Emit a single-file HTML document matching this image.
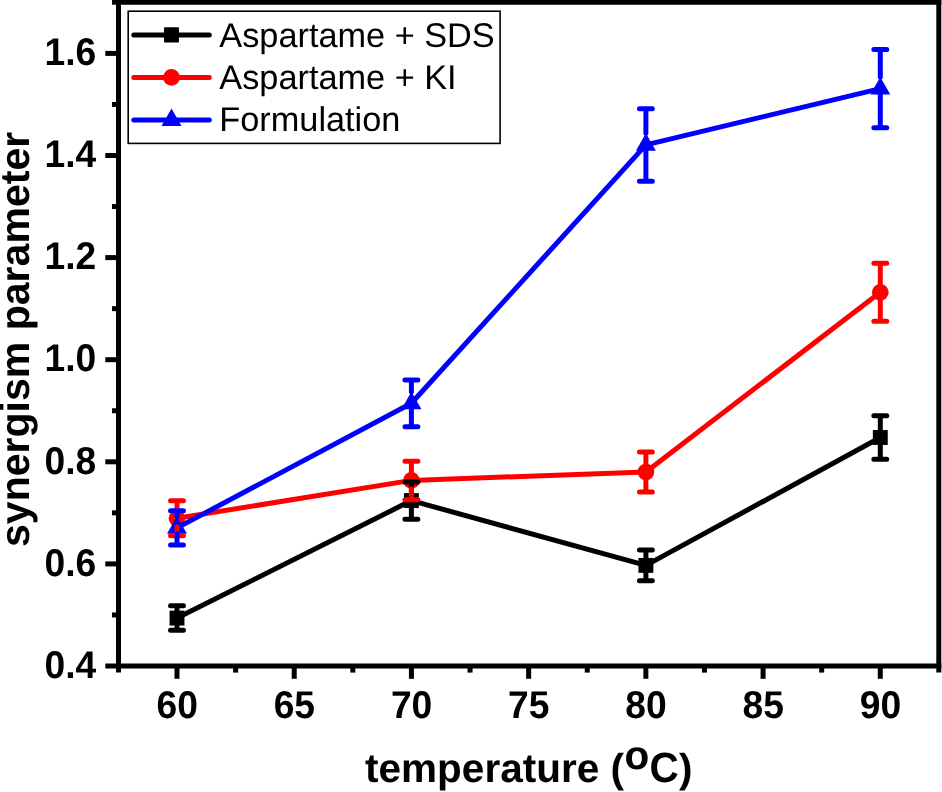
<!DOCTYPE html>
<html><head><meta charset="utf-8"><title>synergism parameter vs temperature</title>
<style>
html,body{margin:0;padding:0;background:#fff;}
body{width:942px;height:792px;overflow:hidden;font-family:"Liberation Sans",sans-serif;}
svg{display:block;will-change:transform;text-rendering:geometricPrecision;}
</style></head><body>
<svg width="942" height="792" viewBox="0 0 942 792">
<rect width="942" height="792" fill="#fff"/>
<polyline fill="none" stroke="#000" stroke-width="5.00" stroke-linejoin="round" stroke-linecap="round" points="177.00,618.10 411.40,500.60 645.90,565.40 880.30,437.50"/>
<rect x="169.55" y="610.65" width="14.90" height="14.90" fill="#000"/>
<rect x="403.95" y="493.15" width="14.90" height="14.90" fill="#000"/>
<rect x="638.45" y="557.95" width="14.90" height="14.90" fill="#000"/>
<rect x="872.85" y="430.05" width="14.90" height="14.90" fill="#000"/>
<polyline fill="none" stroke="#f00" stroke-width="5.00" stroke-linejoin="round" stroke-linecap="round" points="177.00,518.30 411.40,480.40 645.90,472.00 880.30,292.30"/>
<circle cx="177.00" cy="518.30" r="8.35" fill="#f00"/>
<circle cx="411.40" cy="480.40" r="8.35" fill="#f00"/>
<circle cx="645.90" cy="472.00" r="8.35" fill="#f00"/>
<circle cx="880.30" cy="292.30" r="8.35" fill="#f00"/>
<polyline fill="none" stroke="#00f" stroke-width="5.00" stroke-linejoin="round" stroke-linecap="round" points="177.00,527.90 411.40,403.30 645.90,144.90 880.30,88.60"/>
<polygon fill="#00f" points="177.00,516.23 167.00,533.73 187.00,533.73"/>
<polygon fill="#00f" points="411.40,391.63 401.40,409.13 421.40,409.13"/>
<polygon fill="#00f" points="645.90,133.23 635.90,150.73 655.90,150.73"/>
<polygon fill="#00f" points="880.30,76.93 870.30,94.43 890.30,94.43"/>
<path fill="none" stroke="#000" stroke-width="5.00" stroke-linecap="round" d="M177.00 605.85V610.65M177.00 625.55V630.35M170.55 605.85H183.45M170.55 630.35H183.45"/>
<path fill="none" stroke="#000" stroke-width="5.00" stroke-linecap="round" d="M411.40 482.00V493.15M411.40 508.05V519.20M404.95 482.00H417.85M404.95 519.20H417.85"/>
<path fill="none" stroke="#000" stroke-width="5.00" stroke-linecap="round" d="M645.90 550.00V557.95M645.90 572.85V580.80M639.45 550.00H652.35M639.45 580.80H652.35"/>
<path fill="none" stroke="#000" stroke-width="5.00" stroke-linecap="round" d="M880.30 415.80V430.05M880.30 444.95V459.20M873.85 415.80H886.75M873.85 459.20H886.75"/>
<path fill="none" stroke="#f00" stroke-width="5.00" stroke-linecap="round" d="M177.00 500.80V509.95M177.00 526.65V535.80M170.55 500.80H183.45M170.55 535.80H183.45"/>
<path fill="none" stroke="#f00" stroke-width="5.00" stroke-linecap="round" d="M411.40 461.15V472.05M411.40 488.75V499.65M404.95 461.15H417.85M404.95 499.65H417.85"/>
<path fill="none" stroke="#f00" stroke-width="5.00" stroke-linecap="round" d="M645.90 452.00V463.65M645.90 480.35V492.00M639.45 452.00H652.35M639.45 492.00H652.35"/>
<path fill="none" stroke="#f00" stroke-width="5.00" stroke-linecap="round" d="M880.30 263.30V283.95M880.30 300.65V321.30M873.85 263.30H886.75M873.85 321.30H886.75"/>
<path fill="none" stroke="#00f" stroke-width="5.00" stroke-linecap="round" d="M177.00 510.80V516.23M177.00 533.73V545.00M170.55 510.80H183.45M170.55 545.00H183.45"/>
<path fill="none" stroke="#00f" stroke-width="5.00" stroke-linecap="round" d="M411.40 379.95V391.63M411.40 409.13V426.65M404.95 379.95H417.85M404.95 426.65H417.85"/>
<path fill="none" stroke="#00f" stroke-width="5.00" stroke-linecap="round" d="M645.90 108.65V133.23M645.90 150.73V181.15M639.45 108.65H652.35M639.45 181.15H652.35"/>
<path fill="none" stroke="#00f" stroke-width="5.00" stroke-linecap="round" d="M880.30 49.45V76.93M880.30 94.43V127.75M873.85 49.45H886.75M873.85 127.75H886.75"/>
<g stroke="#000" stroke-width="5.00" fill="none" stroke-linecap="butt">
<path d="M118.50 0.00V672.60"/>
<path d="M938.80 0.00V672.60"/>
<path d="M112.00 2.30H941.30"/>
<path d="M105.30 666.00H941.30"/>
</g>
<g stroke="#000" stroke-width="5.00" fill="none">
<path d="M105.3 563.90H118.50"/>
<path d="M105.3 461.80H118.50"/>
<path d="M105.3 359.70H118.50"/>
<path d="M105.3 257.60H118.50"/>
<path d="M105.3 155.50H118.50"/>
<path d="M105.3 53.40H118.50"/>
<path d="M112 614.95H118.50"/>
<path d="M112 512.85H118.50"/>
<path d="M112 410.75H118.50"/>
<path d="M112 308.65H118.50"/>
<path d="M112 206.55H118.50"/>
<path d="M112 104.45H118.50"/>
<path d="M177.00 666.00V678.8"/>
<path d="M294.22 666.00V678.8"/>
<path d="M411.43 666.00V678.8"/>
<path d="M528.64 666.00V678.8"/>
<path d="M645.86 666.00V678.8"/>
<path d="M763.08 666.00V678.8"/>
<path d="M880.29 666.00V678.8"/>
<path d="M235.61 666.00V672.6"/>
<path d="M352.82 666.00V672.6"/>
<path d="M470.04 666.00V672.6"/>
<path d="M587.25 666.00V672.6"/>
<path d="M704.47 666.00V672.6"/>
<path d="M821.68 666.00V672.6"/>
</g>
<g font-family="'Liberation Sans', sans-serif" font-weight="bold" font-size="37.2px" fill="#000">
<text transform="translate(96.2 677.75) scale(1 1.040)" text-anchor="end">0.4</text>
<text transform="translate(96.2 575.65) scale(1 1.040)" text-anchor="end">0.6</text>
<text transform="translate(96.2 473.55) scale(1 1.040)" text-anchor="end">0.8</text>
<text transform="translate(96.2 371.45) scale(1 1.040)" text-anchor="end">1.0</text>
<text transform="translate(96.2 269.35) scale(1 1.040)" text-anchor="end">1.2</text>
<text transform="translate(96.2 167.25) scale(1 1.040)" text-anchor="end">1.4</text>
<text transform="translate(96.2 65.15) scale(1 1.040)" text-anchor="end">1.6</text>
<text transform="translate(177.15 717.9) scale(1 1.040)" text-anchor="middle">60</text>
<text transform="translate(294.37 717.9) scale(1 1.040)" text-anchor="middle">65</text>
<text transform="translate(411.58 717.9) scale(1 1.040)" text-anchor="middle">70</text>
<text transform="translate(528.79 717.9) scale(1 1.040)" text-anchor="middle">75</text>
<text transform="translate(646.01 717.9) scale(1 1.040)" text-anchor="middle">80</text>
<text transform="translate(763.23 717.9) scale(1 1.040)" text-anchor="middle">85</text>
<text transform="translate(880.44 717.9) scale(1 1.040)" text-anchor="middle">90</text>
</g>
<g font-family="'Liberation Sans', sans-serif" font-weight="bold" fill="#000">
<text x="365.1" y="782.3" font-size="40.5px">temperature (</text>
<text x="624.6" y="768.7" font-size="40.5px">o</text>
<text transform="translate(649.4 782.3) scale(1 1.045)" font-size="40.5px">C</text>
<text x="678.9" y="782.3" font-size="40.5px">)</text>
<text transform="translate(29.2 339.4) rotate(-90)" text-anchor="middle" font-size="41.05px">synergism parameter</text>
</g>
<rect x="128.2" y="11.2" width="371.9" height="132.2" fill="#fff" stroke="#000" stroke-width="1.6"/>
<path d="M133.8 34.90H209.3" stroke="#000" stroke-width="5" stroke-linecap="round"/>
<path d="M133.8 77.40H209.3" stroke="#f00" stroke-width="5" stroke-linecap="round"/>
<path d="M133.8 120.10H209.3" stroke="#00f" stroke-width="5" stroke-linecap="round"/>
<rect x="164.05" y="27.20" width="14.90" height="15.40" rx="0.8" fill="#000"/>
<circle cx="171.5" cy="77.40" r="8.35" fill="#f00"/>
<polygon fill="#00f" points="171.50,108.43 161.50,125.93 181.50,125.93"/>
<g font-family="'Liberation Sans', sans-serif" font-size="34.3px" fill="#000">
<text x="219.3" y="46.70">Aspartame + SDS</text>
<text x="219.3" y="88.90">Aspartame + KI</text>
<text x="219.3" y="131.20">Formulation</text>
</g>
</svg>
</body></html>
